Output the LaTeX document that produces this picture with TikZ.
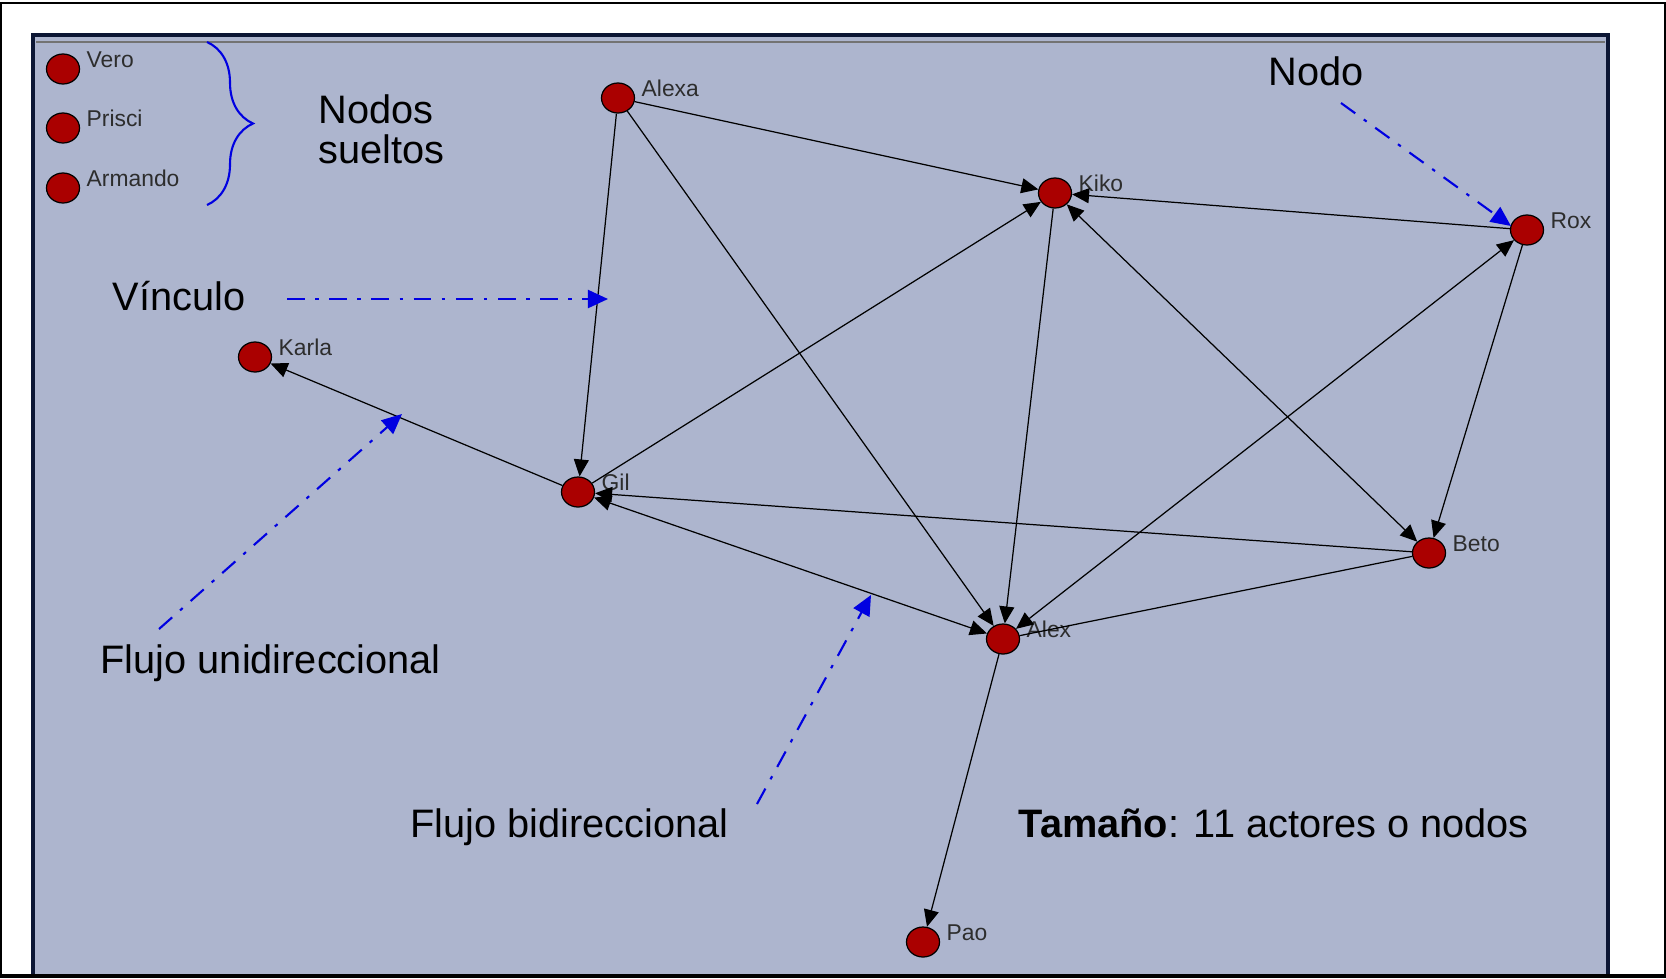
\documentclass[tikz,border=0pt]{standalone}
\usepackage{fontspec}
\setmainfont{Liberation Sans}
\usetikzlibrary{arrows.meta,shapes.geometric,decorations.pathreplacing}

\definecolor{panelbg}{RGB}{173,181,206}
\definecolor{panelnavy}{RGB}{12,22,52}
\definecolor{actorred}{RGB}{170,0,0}
\definecolor{lblgray}{RGB}{45,45,45}
\definecolor{notablue}{RGB}{0,0,225}

\tikzset{
    actor/.style={ellipse, draw=black, line width=0.35pt, fill=actorred,
        minimum width=3.3mm, minimum height=3.0mm, inner sep=0pt},
    lbl/.style={font=\fontsize{6.5}{7}\selectfont, text=lblgray, anchor=base west, inner sep=0pt},
    tie/.style={line width=0.35pt, -{Triangle[length=1.7mm,width=1.5mm]}},
    tieboth/.style={line width=0.35pt, {Triangle[length=1.7mm,width=1.5mm]}-{Triangle[length=1.7mm,width=1.5mm]}},
    tieplain/.style={line width=0.35pt},
    note/.style={font=\fontsize{11.3}{11.4}\selectfont, anchor=base west, inner sep=0pt},
    pointer/.style={notablue, line width=0.6pt, dash pattern=on 5pt off 3pt on 1pt off 3pt,
        -{Triangle[length=2mm,width=1.8mm]}}
}

\begin{document}
\begin{tikzpicture}[x=0.01cm, y=-0.01cm]
    \useasboundingbox (0,0) rectangle (1666,978);

    % Frame and panel
    \draw[black, line width=0.6pt, fill=white] (1,3) rectangle (1665,977);
    \fill[panelbg] (33,35) rectangle (1608,975);
    \draw[panelnavy, line width=1.2pt] (33,975) -- (33,35) -- (1608,35) -- (1608,975);
    \draw[black!55, line width=0.4pt] (36,42) -- (1605,42);
    \draw[black, line width=1.2pt] (1,976) -- (1665,976);

    % Actors: name / x / y / label
    \foreach \n/\x/\y/\t in {vero/63/69/Vero, prisci/63/128/Prisci, armando/63/188/Armando,
        alexa/618/98/Alexa, kiko/1055/193/Kiko, rox/1527/230/Rox, beto/1429/553/Beto,
        alex/1003/639/Alex, gil/578/492/Gil, karla/255/357/Karla, pao/923/942/Pao} {
        \node[actor] (\n) at (\x,\y) {};
        \node[lbl] (\n-lbl) at (\x+23,\y-2) {\t};
    }

    % Ties between actors
    \draw[tie] (alexa) -- (kiko);
    \draw[tie] (alexa) -- (gil);
    \draw[tie] (alexa) -- (alex);
    \draw[tie] (rox) -- (kiko);
    \draw[tie] (kiko) -- (alex);
    \draw[tieboth] (kiko) -- (beto);
    \draw[tie] (rox) -- (beto);
    \draw[tieboth] (alex) -- (rox);
    \draw[tie] (beto) -- (gil);
    \draw[tieplain] (beto) -- (alex);
    \draw[tie] (gil) -- (karla);
    \draw[tie] (gil) -- (kiko);
    \draw[tieboth] (gil) -- (alex);
    \draw[tie] (alex) -- (pao);

    % Loose nodes
    \draw[notablue, line width=0.6pt, decorate, decoration={brace, amplitude=0.46cm}]
        (207,42) -- (207,205);
    \node[note, align=left, anchor=north west] (sueltos) at (318,94) {Nodos\\sueltos};

    % Annotations
    \node[note] (nodo) at (1268,85) {Nodo};
    \node[note] (vinculo) at (112,310) {Vínculo};
    \node[note] (unidir) at (100,673) {Flujo unidireccional};
    \node[note] (bidir) at (410,837) {Flujo bidireccional};
    \node[note] (tamano) at (1018,837) {\textbf{Tamaño}: 11 actores o nodos};

    \coordinate (nodo-a) at (1341,103);
    \coordinate (nodo-b) at (1511,226);
    \coordinate (vinculo-a) at (287,299);
    \coordinate (vinculo-b) at (608,299);
    \coordinate (unidir-a) at (159,629);
    \coordinate (unidir-b) at (402,414);
    \coordinate (bidir-a) at (757,804);
    \coordinate (bidir-b) at (871,595);

    \draw[pointer] (nodo-a) -- (nodo-b);
    \draw[pointer] (vinculo-a) -- (vinculo-b);
    \draw[pointer] (unidir-a) -- (unidir-b);
    \draw[pointer] (bidir-a) -- (bidir-b);

\end{tikzpicture}
\end{document}
